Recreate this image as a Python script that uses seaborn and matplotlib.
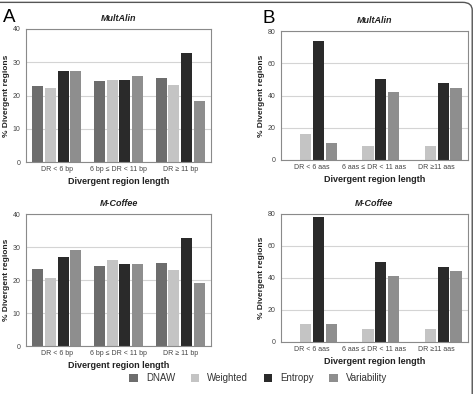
import numpy as np
import pandas as pd
import matplotlib
matplotlib.use("Agg")
import matplotlib.pyplot as plt
import seaborn as sns
from matplotlib.patches import FancyBboxPatch, Patch

sns.set_theme(style="white")
plt.rcParams['font.family'] = ['Liberation Sans', 'DejaVu Sans']

methods = ["DNAW", "Weighted", "Entropy", "Variability"]
colors = ["#6d6d6d", "#c4c4c4", "#2a2a2a", "#8e8e8e"]

cats_bp = ["DR < 6 bp", "6 bp \u2264 DR < 11 bp", "DR \u2265 11 bp"]
cats_aa = ["DR < 6 aas", "6 aas \u2264 DR < 11 aas", "DR \u226511 aas"]

# values per category: [DNAW, Weighted, Entropy, Variability]
a_multalin = [[23.0, 22.3, 27.3, 27.3], [24.3, 24.8, 24.8, 26.0], [25.4, 23.2, 32.8, 18.4]]
a_mcoffee = [[23.3, 20.7, 27.0, 29.0], [24.3, 26.0, 25.0, 25.0], [25.2, 23.0, 32.8, 19.0]]
b_multalin = [[0.0, 16.0, 74.0, 10.5], [0.0, 8.5, 50.0, 42.0], [0.0, 8.5, 47.5, 44.5]]
b_mcoffee = [[0.0, 11.0, 78.0, 11.0], [0.0, 8.0, 50.0, 41.5], [0.0, 8.0, 47.0, 44.5]]


def to_df(cats, vals):
    rows = []
    for c, v in zip(cats, vals):
        for m, x in zip(methods, v):
            rows.append({"cat": c, "method": m, "value": x})
    return pd.DataFrame(rows)


fig = plt.figure(figsize=(4.77, 3.94), dpi=100)

panels = [
    ([0.0545, 0.5888, 0.388, 0.3376], cats_bp, a_multalin, "MultAlin", 40, 10),
    ([0.589, 0.594, 0.392, 0.327], cats_aa, b_multalin, "MultAlin", 80, 20),
    ([0.0545, 0.1218, 0.388, 0.335], cats_bp, a_mcoffee, "M-Coffee", 40, 10),
    ([0.589, 0.132, 0.392, 0.325], cats_aa, b_mcoffee, "M-Coffee", 80, 20),
]

for rect, cats, vals, title, ymax, step in panels:
    ax = fig.add_axes(rect)
    df = to_df(cats, vals)
    sns.barplot(data=df, x="cat", y="value", hue="method", hue_order=methods,
                palette=colors, ax=ax, width=0.82, legend=False,
                saturation=1, linewidth=0)
    for p in ax.patches:
        w = p.get_width()
        p.set_width(w * 0.88)
        p.set_x(p.get_x() + w * 0.06)
    ax.set_ylim(0, ymax)
    ax.set_xlim(-0.5, 2.5)
    ax.set_yticks(np.arange(0, ymax + 1, step))
    ax.yaxis.grid(True, color="#d4d4d4", linewidth=0.8)
    ax.set_axisbelow(True)
    ax.tick_params(axis="both", length=0, labelsize=5, colors="#444444")
    ax.tick_params(axis="y", pad=4)
    ax.tick_params(axis="x", pad=3)
    for s in ax.spines.values():
        s.set_color("#8a8a8a")
        s.set_linewidth(0.8)
    ax.set_title(title, fontsize=6.5, fontweight="bold", style="italic", pad=6, color="#222222")
    ax.set_ylabel("% Divergent regions", fontsize=6, fontweight="bold", labelpad=1.5, color="#222222")
    ax.set_xlabel("Divergent region length", fontsize=6.5, fontweight="bold", labelpad=3, color="#222222")

fig.text(0.006, 0.944, "A", fontsize=13.5, color="black")
fig.text(0.551, 0.942, "B", fontsize=13.5, color="black")

handles = [Patch(facecolor=c, edgecolor="none") for c in colors]
fig.legend(handles, methods, loc="center", bbox_to_anchor=(0.541, 0.04), ncol=4,
           frameon=False, fontsize=7, handlelength=0.9, handleheight=0.9,
           columnspacing=1.6, handletextpad=0.8, labelcolor="#333333")

frame = FancyBboxPatch((-0.05, -0.05), 1.04, 1.044, boxstyle="round,pad=0,rounding_size=0.02",
                       transform=fig.transFigure, facecolor="none", edgecolor="#555555",
                       linewidth=1.0, clip_on=False)
fig.patches.append(frame)

fig.savefig("out.png", dpi=100)
